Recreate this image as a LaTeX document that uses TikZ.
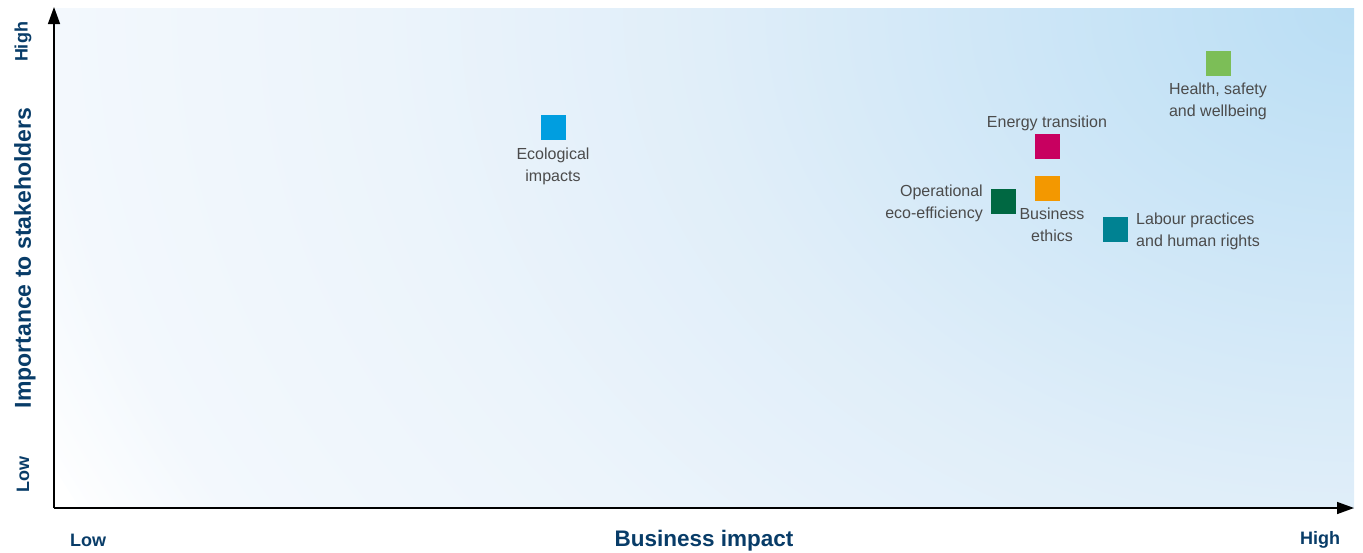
\documentclass[tikz,border=0pt]{standalone}
\usepackage{fontspec}
\setmainfont{Liberation Sans}
\usetikzlibrary{arrows.meta}
\definecolor{axisblue}{RGB}{8,60,104}
\definecolor{labelgrey}{RGB}{75,75,75}
\definecolor{cEco}{RGB}{0,158,224}
\definecolor{cHealth}{RGB}{124,190,87}
\definecolor{cEnergy}{RGB}{200,0,96}
\definecolor{cEthics}{RGB}{243,152,0}
\definecolor{cOper}{RGB}{0,104,66}
\definecolor{cLabour}{RGB}{0,130,146}
\definecolor{bgA}{RGB}{186,222,244}
\definecolor{bgB}{RGB}{205,230,247}
\definecolor{bgC}{RGB}{224,238,249}
\definecolor{bgD}{RGB}{236,244,251}
\definecolor{bgE}{RGB}{243,248,253}
\pgfdeclareradialshading{bgrad}{\pgfpointorigin}{color(0bp)=(bgA); color(5.68bp)=(bgB); color(11.36bp)=(bgC); color(17.05bp)=(bgD); color(22.7bp)=(bgE); color(25.4bp)=(white); color(50bp)=(white)}
\tikzset{
  marker/.style={draw=none, minimum size=25pt, inner sep=0pt},
  lbl/.style={text=labelgrey, font=\fontsize{16}{22}\selectfont, inner sep=0pt, align=center},
  axlbl/.style={text=axisblue, font=\bfseries\fontsize{18}{20}\selectfont, inner sep=0pt},
  axtitle/.style={text=axisblue, font=\bfseries\fontsize{22.5}{24}\selectfont, inner sep=0pt},
  axisline/.style={line width=1.5pt, -{Triangle[length=17pt,width=12pt]}}
}
\begin{document}
\begin{tikzpicture}[x=1pt,y=-1pt]
\useasboundingbox (0,0) rectangle (1363,552);
\begin{scope}
\clip (54,8) rectangle (1354,508);
\shade[shading=bgrad] (1354,8) ellipse [x radius=1430pt, y radius=1100pt];
\end{scope}
\coordinate (O) at (54,508);
\coordinate (Ytop) at (54,7);
\coordinate (Xend) at (1354,508);
\draw[axisline] (O) -- (Ytop);
\draw[axisline] (O) -- (Xend);
% markers
\node[marker, fill=cEco] (eco) at (553.5,127) {};
\node[marker, fill=cHealth] (health) at (1218.5,63) {};
\node[marker, fill=cEnergy] (energy) at (1047.5,146.5) {};
\node[marker, fill=cEthics] (ethics) at (1047.5,188.5) {};
\node[marker, fill=cOper] (oper) at (1003.5,201.5) {};
\node[marker, fill=cLabour] (labour) at (1115.5,229.5) {};
% labels
\node[lbl] (ecoL) at (553,166) {Ecological\\impacts};
\node[lbl] (healthL) at (1218,101) {Health, safety\\and wellbeing};
\node[lbl] (energyL) at (1047,123) {Energy transition};
\node[lbl, align=right, anchor=east] (operL) at (983,203) {Operational\\eco-efficiency};
\node[lbl] (ethicsL) at (1052,225) {Business\\ethics};
\node[lbl, align=left, anchor=west] (labourL) at (1136,231) {Labour practices\\and human rights};
% axis labels
\node[axlbl, rotate=90] (yHigh) at (23,42) {High};
\node[axtitle, rotate=90] (yTitle) at (25,258) {\fontsize{23}{24}\selectfont Importance to stakeholders};
\node[axlbl, rotate=90] (yLow) at (23,474) {Low};
\node[axlbl] (xLow) at (88,540) {Low};
\node[axtitle] (xTitle) at (704,541) {Business impact};
\node[axlbl] (xHigh) at (1320,540) {High};
\end{tikzpicture}
\end{document}
